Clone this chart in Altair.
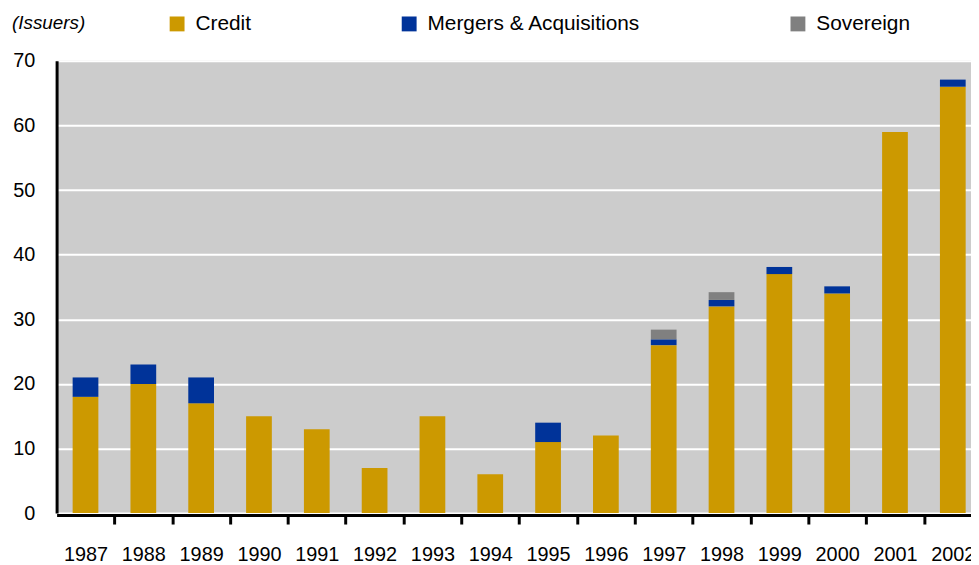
import altair as alt
import pandas as pd

years = [str(y) for y in range(1987, 2003)]
credit = [18, 20, 17, 15, 13, 7, 15, 6, 11, 12, 26, 32, 37, 34, 59, 66]
mergers = [3, 3, 4, 0, 0, 0, 0, 0, 3, 0, 0.9, 1, 1.1, 1.1, 0, 1.1]
sovereign = [0, 0, 0, 0, 0, 0, 0, 0, 0, 0, 1.5, 1.2, 0, 0, 0, 0]
series = ["Credit", "Mergers & Acquisitions", "Sovereign"]
colors = ["#CC9900", "#003399", "#808080"]
y_ticks = [0, 10, 20, 30, 40, 50, 60, 70]
unit_label = ["(Issuers)"]

rows = []
for i, yr in enumerate(years):
    for k, (name, vals) in enumerate(zip(series, [credit, mergers, sovereign])):
        rows.append({"year": yr, "series": name, "value": vals[i], "order": k})
df = pd.DataFrame(rows)

FONT = "Liberation Sans, Arial, sans-serif"
STEP = 58.3
N = len(years)

bars = alt.Chart(df).transform_filter(
    alt.datum.value > 0
).mark_bar().encode(
    x=alt.X(
        "year:N", sort=years,
        scale=alt.Scale(range=[0, STEP * N], paddingInner=0.555, paddingOuter=0.2775),
        axis=alt.Axis(title=None, labelAngle=0, domainWidth=3, offset=2,
                      domainColor="black", tickWidth=3, tickSize=9, tickColor="black",
                      tickOffset=STEP / 2, labelOffset=-STEP / 2,
                      labelPadding=21, labelFontSize=20, labelFont=FONT,
                      labelColor="black", grid=False),
    ),
    y=alt.Y(
        "value:Q", stack="zero",
        scale=alt.Scale(domain=[0, 70], nice=False),
        axis=alt.Axis(title=None, values=y_ticks, tickSize=0, labelPadding=22,
                      domainWidth=3, domainColor="black", gridColor="white",
                      gridWidth=2, gridOpacity=1, labelFontSize=20, labelFont=FONT,
                      labelColor="black"),
    ),
    color=alt.Color(
        "series:N", sort=series,
        scale=alt.Scale(domain=series, range=colors),
        legend=alt.Legend(title=None, orient="none", direction="horizontal",
                          legendX=111, legendY=-48, columnPadding=148,
                          symbolType="square", symbolSize=225, symbolStrokeWidth=0,
                          symbolOpacity=1, labelFontSize=21, labelFont=FONT,
                          labelColor="black", labelOffset=8, labelLimit=0, padding=0),
    ),
    order=alt.Order("order:Q"),
)

title_df = pd.DataFrame({"label": unit_label})
title = alt.Chart(title_df).mark_text(
    align="left", baseline="middle", fontSize=19, fontStyle="italic",
    font=FONT, color="black",
).encode(
    text="label:N", x=alt.value(-45), y=alt.value(-38),
)

chart = alt.layer(bars, title).properties(
    width=922, height=456, autosize="none",
    padding={"left": 49, "top": 51, "right": 0, "bottom": 50},
).configure_view(fill="#CCCCCC", stroke=None)

chart.save("out.html", embed_options={"renderer": "svg", "actions": False})
